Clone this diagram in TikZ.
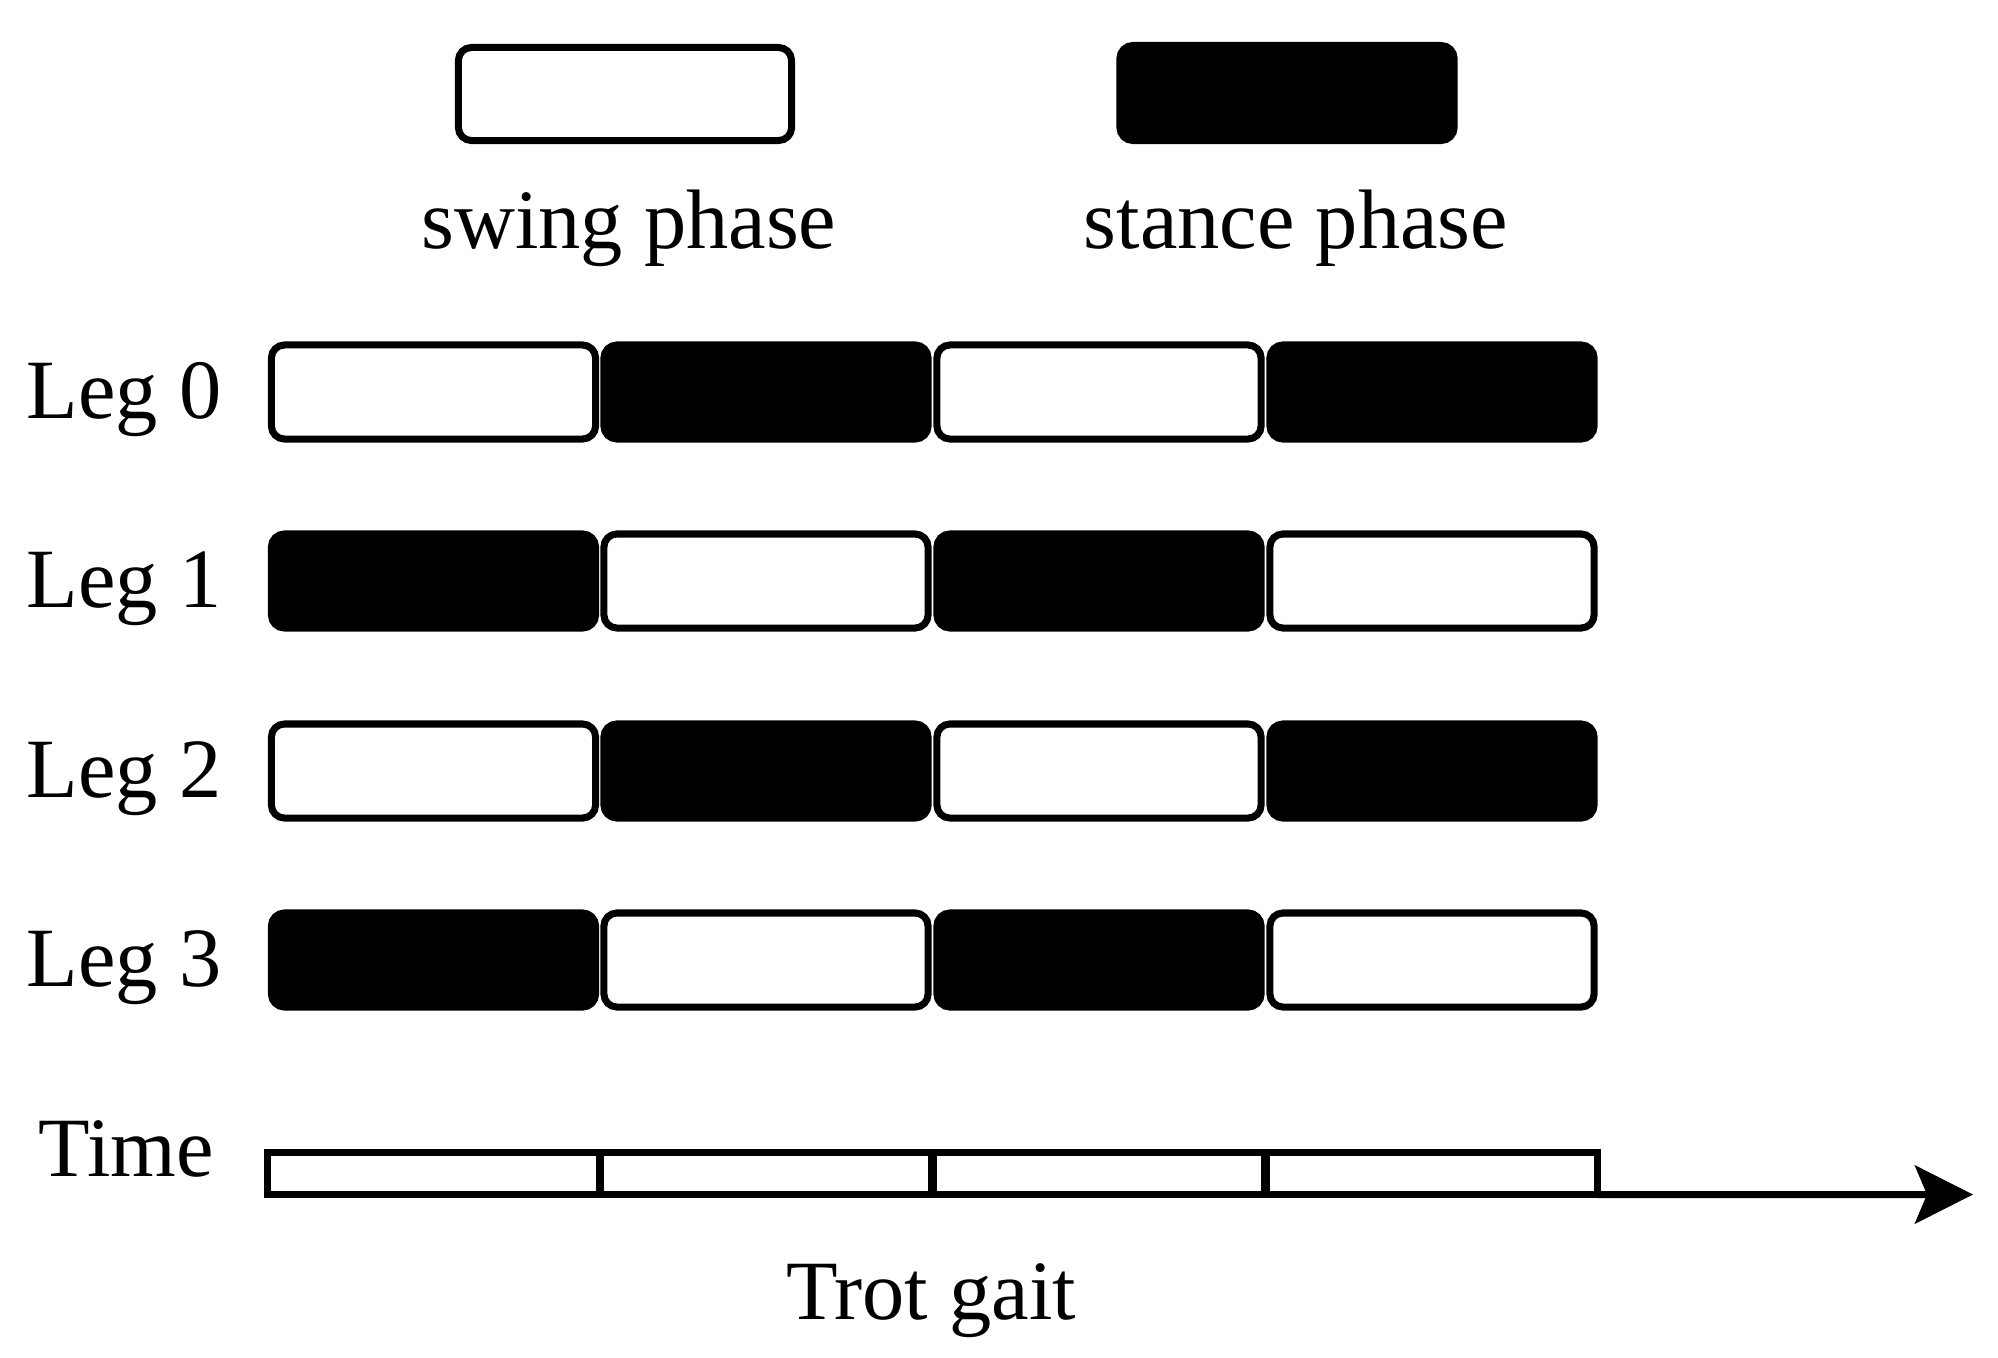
\documentclass[tikz,border=0pt]{standalone}
\usepackage{fontspec}
\setmainfont{Liberation Serif}
\usetikzlibrary{arrows.meta}
\begin{document}
\begin{tikzpicture}[x=0.01cm,y=-0.01cm,
  cell/.style={draw=black,line width=2pt,rounded corners=0.13cm,minimum width=3.24cm,minimum height=0.94cm,inner sep=0pt,outer sep=0pt},
  swing/.style={cell,fill=white},
  stance/.style={cell,fill=black},
  legsw/.style={swing,minimum width=3.33cm,minimum height=0.93cm},
  legst/.style={stance,minimum width=3.34cm,minimum height=0.95cm},
  tcell/.style={draw=black,line width=2pt,minimum width=3.31cm,minimum height=0.42cm,inner sep=0pt,outer sep=0pt},
  lbl/.style={font=\fontsize{24}{28}\selectfont,inner sep=0pt,anchor=base}]
\useasboundingbox (0,0) rectangle (1998,1357);
% legend
\node[legsw] (lsw) at (625,94) {};
\node[legst] (lst) at (1287,93) {};
\node[lbl] (tsw) at (629,248) {swing phase};
\node[lbl] (tst) at (1296,248) {stance phase};
% rows
\foreach \r/\y/\a/\b in {0/392/swing/stance,1/581/stance/swing,2/771/swing/stance,3/960/stance/swing}{
  \node[lbl] (L\r) at (124,\y+26) {Leg \r};
  \node[\a] (c\r0) at (433.5,\y) {};
  \node[\b] (c\r1) at (766,\y) {};
  \node[\a] (c\r2) at (1099,\y) {};
  \node[\b] (c\r3) at (1432,\y) {};
}
% time bar
\node[tcell] (t0) at (433.5,1173.5) {};
\node[tcell] (t1) at (766,1173.5) {};
\node[tcell] (t2) at (1099,1173.5) {};
\node[tcell] (t3) at (1432,1173.5) {};
\coordinate (tend) at (1973,1194.5);
\draw[line width=2pt,-{Stealth[length=0.58cm,width=0.58cm,inset=0.12cm]}] (t3.south east) -- (tend);
\node[lbl] (ttime) at (126,1176) {Time};
\node[lbl] (ttrot) at (931,1319) {Trot gait};
\end{tikzpicture}
\end{document}
